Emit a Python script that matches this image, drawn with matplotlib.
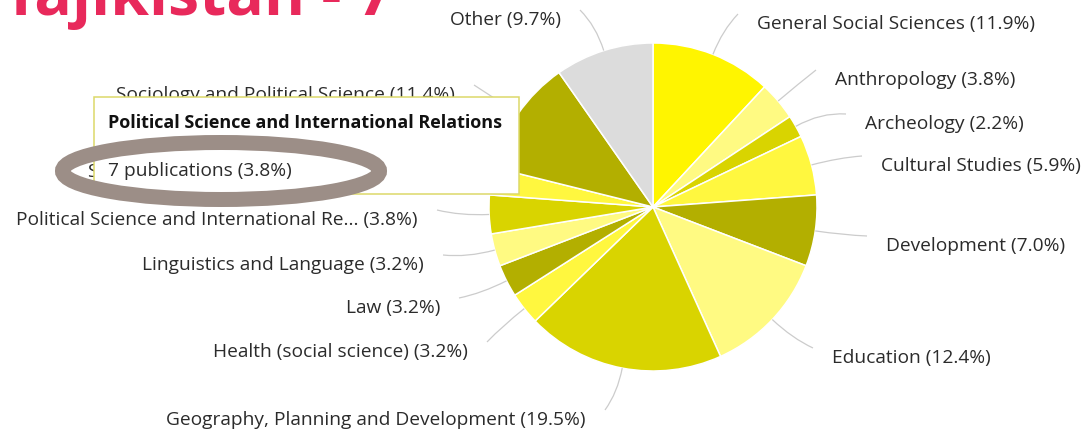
import matplotlib

matplotlib.use("Agg")
import matplotlib.pyplot as plt
import numpy as np
from matplotlib.patches import Ellipse, Rectangle
from matplotlib.path import Path
from matplotlib.patches import PathPatch

# --- data -------------------------------------------------------------
subjects = [
    "General Social Sciences",
    "Anthropology",
    "Archeology",
    "Cultural Studies",
    "Development",
    "Education",
    "Geography, Planning and Development",
    "Health (social science)",
    "Law",
    "Linguistics and Language",
    "Political Science and International Re...",
    "Safety Research",
    "Sociology and Political Science",
    "Other",
]
shares = [11.9, 3.8, 2.2, 5.9, 7.0, 12.4, 19.5, 3.2, 3.2, 3.2, 3.8, 2.7, 11.4, 9.7]
title_text = "Tajikistan - 7"
tooltip_title = "Political Science and International Relations"
tooltip_body = "7 publications (3.8%)"

# --- style / layout (pixel coordinates, y down) -----------------------
BRIGHT, LIGHT, MID, MEDIUM, OLIVE, GREY = "#FFF500", "#FFFA82", "#D9D400", "#FFF73F", "#B3AF00", "#DCDCDC"
colors = [BRIGHT] + [LIGHT, MID, MEDIUM, OLIVE] * 3 + [GREY]

# label anchor: (x, y_center, side) ; right side labels are left-aligned
label_pos = [
    (757, 24, "r"), (835, 80, "r"), (865, 124, "r"), (881, 166, "r"),
    (886, 246, "r"), (832, 358, "r"), (586, 420, "l"), (468, 352, "l"),
    (440, 308, "l"), (424, 265, "l"), (418, 220, "l"), (88, 172, "s"),
    (455, 95, "l"), (561, 20, "l"),
]

W, H = 1088, 433
CENTER = (653, 207)
RADIUS = 164
TEXT = "#2b2b2b"
FONT = "Open Sans"
LABEL_SIZE = 13.8

fig = plt.figure(figsize=(W / 100, H / 100), dpi=100)
ax = fig.add_axes([0, 0, 1, 1])

# y axis is inverted below, so counterclock in data space reads clockwise on screen
wedges, _ = ax.pie(
    shares,
    colors=colors,
    center=CENTER,
    radius=RADIUS,
    startangle=-90,
    counterclock=True,
    wedgeprops=dict(edgecolor="white", linewidth=1.1),
)
ax.set_xlim(0, W)
ax.set_ylim(H, 0)
ax.set_aspect("equal")
ax.axis("off")

for wedge, name, share, (lx, ly, side) in zip(wedges, subjects, shares, label_pos):
    mid = np.deg2rad((wedge.theta1 + wedge.theta2) / 2)
    direction = np.array([np.cos(mid), np.sin(mid)])
    start = np.array(CENTER) + direction * RADIUS
    if side == "r":
        end = np.array([lx - 19, ly - 10])
        ha = "left"
    elif side == "l":
        end = np.array([lx + 19, ly - 10])
        ha = "right"
    else:
        end = np.array([470, 178])
        ha = "left"
    ctrl = start + direction * 0.55 * np.linalg.norm(end - start)
    path = Path([start, ctrl, end], [Path.MOVETO, Path.CURVE3, Path.CURVE3])
    ax.add_patch(PathPatch(path, fill=False, edgecolor="#cccccc", linewidth=0.9, zorder=1))
    ax.text(lx, ly, f"{name} ({share:.1f}%)", ha=ha, va="center",
            fontsize=LABEL_SIZE, color=TEXT, family=FONT, zorder=3)

# title, cut by the top edge
ax.text(3, 15, title_text, ha="left", va="baseline", fontsize=45,
        fontweight="bold", color="#E8295B", family=FONT, zorder=3)

# tooltip
ax.add_patch(Rectangle((94, 97), 425, 97, facecolor="white", edgecolor="#dcd96a",
                       linewidth=1.1, zorder=5))
ax.text(108, 123, tooltip_title, ha="left", va="center", fontsize=13.0,
        fontweight="bold", color="#111111", family=FONT, zorder=6)
ax.text(108, 171, tooltip_body, ha="left", va="center", fontsize=LABEL_SIZE,
        color=TEXT, family=FONT, zorder=6)

# hand-drawn highlight ring
ax.add_patch(Ellipse((221, 171), 317, 57, fill=False, edgecolor="#9C8E87",
                     linewidth=10.8, zorder=7))

fig.savefig("out.png", dpi=100)
plt.close(fig)
